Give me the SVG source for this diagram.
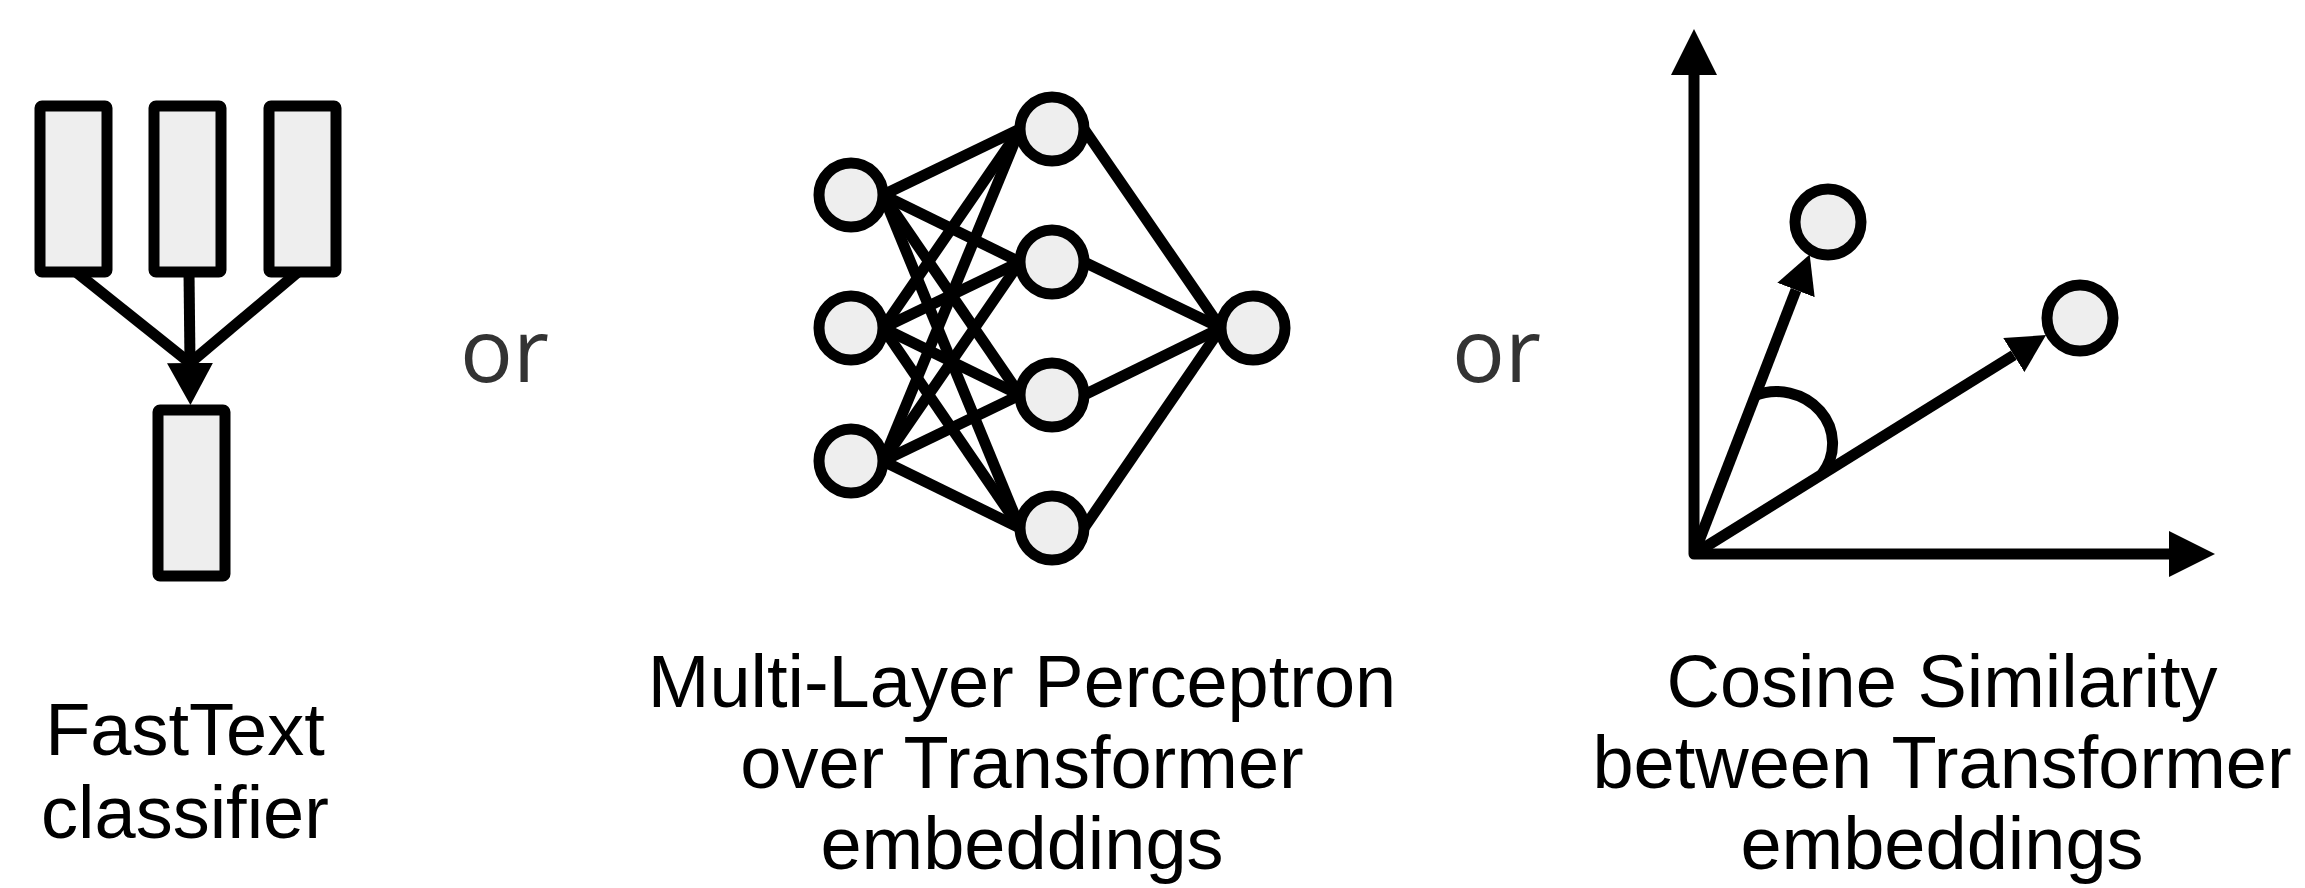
<svg xmlns="http://www.w3.org/2000/svg" width="2305" height="888" viewBox="0 0 2305 888">
<style>
.box{fill:#eeeeee;stroke:#000;stroke-width:11;stroke-linejoin:round}
.node{fill:#eeeeee;stroke:#000;stroke-width:11}
.edge{fill:none;stroke:#000;stroke-width:11}
.lbl{font-family:"Liberation Sans",Arial,sans-serif;font-size:74px;text-anchor:middle;fill:#000}
.or{font-family:"Open Sans","Noto Sans",sans-serif;font-size:88px;fill:#333333}
</style>
<defs>
<marker id="ahL" markerUnits="userSpaceOnUse" markerWidth="46" markerHeight="46" viewBox="0 -23 46 46" refX="0" refY="0" orient="auto-start-reverse"><path d="M0,-23 L46,0 L0,23 z" fill="#000"/></marker>
<marker id="ahF" markerUnits="userSpaceOnUse" markerWidth="42" markerHeight="46" viewBox="0 -23 42 46" refX="0" refY="0" orient="auto"><path d="M0,-23 L42,0 L0,23 z" fill="#000"/></marker>
<marker id="ahS" markerUnits="userSpaceOnUse" markerWidth="38" markerHeight="40" viewBox="0 -20 38 40" refX="0" refY="0" orient="auto"><path d="M0,-20 L38,0 L0,20 z" fill="#000"/></marker>
</defs>

<g id="connectors">
  <!-- FastText -->
  <line class="edge" x1="76" y1="272" x2="190" y2="363"/>
  <line class="edge" x1="298" y1="272" x2="190" y2="363"/>
  <line class="edge" x1="189" y1="272" x2="190" y2="363" marker-end="url(#ahF)"/>
  <!-- MLP input -> hidden -> output -->
  <g class="edge" stroke-width="10.5">
    <line x1="883" y1="195" x2="1020" y2="129"/>
    <line x1="883" y1="195" x2="1020" y2="262"/>
    <line x1="883" y1="195" x2="1020" y2="395"/>
    <line x1="883" y1="195" x2="1020" y2="528"/>
    <line x1="883" y1="328" x2="1020" y2="129"/>
    <line x1="883" y1="328" x2="1020" y2="262"/>
    <line x1="883" y1="328" x2="1020" y2="395"/>
    <line x1="883" y1="328" x2="1020" y2="528"/>
    <line x1="883" y1="461" x2="1020" y2="129"/>
    <line x1="883" y1="461" x2="1020" y2="262"/>
    <line x1="883" y1="461" x2="1020" y2="395"/>
    <line x1="883" y1="461" x2="1020" y2="528"/>
    <line x1="1084" y1="129" x2="1221" y2="328"/>
    <line x1="1084" y1="262" x2="1221" y2="328"/>
    <line x1="1084" y1="395" x2="1221" y2="328"/>
    <line x1="1084" y1="528" x2="1221" y2="328"/>
  </g>
  <!-- Cosine axes and vectors -->
  <path class="edge" d="M1694,75 L1694,554 L2169,554" stroke-linejoin="round" marker-start="url(#ahL)" marker-end="url(#ahL)"/>
  <line class="edge" x1="1694" y1="554" x2="1796" y2="290" marker-end="url(#ahS)"/>
  <line class="edge" x1="1694" y1="554" x2="2013.8" y2="355.1" marker-end="url(#ahS)"/>
  <path class="edge" stroke-width="10.5" d="M1754,396 A56,52 0 0 1 1822,474"/>
</g>

<g id="ft-in-1"><rect class="box" x="40" y="106" width="67" height="166" rx="2"/></g>
<g id="ft-in-2"><rect class="box" x="154" y="106" width="67" height="166" rx="2"/></g>
<g id="ft-in-3"><rect class="box" x="269" y="106" width="67" height="166" rx="2"/></g>
<g id="ft-out"><rect class="box" x="158" y="410" width="67" height="166" rx="2"/></g>

<g id="mlp-in-1"><circle class="node" cx="851" cy="195" r="32"/></g>
<g id="mlp-in-2"><circle class="node" cx="851" cy="328" r="32"/></g>
<g id="mlp-in-3"><circle class="node" cx="851" cy="461" r="32"/></g>
<g id="mlp-h-1"><circle class="node" cx="1052" cy="129" r="32"/></g>
<g id="mlp-h-2"><circle class="node" cx="1052" cy="262" r="32"/></g>
<g id="mlp-h-3"><circle class="node" cx="1052" cy="395" r="32"/></g>
<g id="mlp-h-4"><circle class="node" cx="1052" cy="528" r="32"/></g>
<g id="mlp-out"><circle class="node" cx="1253" cy="328" r="32"/></g>

<g id="cos-pt-1"><circle class="node" cx="1828" cy="222" r="33"/></g>
<g id="cos-pt-2"><circle class="node" cx="2080" cy="318" r="33"/></g>

<g id="or-1"><text class="or" x="460" y="382">or</text></g>
<g id="or-2"><text class="or" x="1452" y="382">or</text></g>

<g id="label-fasttext">
  <text class="lbl" x="185" y="755">FastText</text>
  <text class="lbl" x="185" y="838">classifier</text>
</g>
<g id="label-mlp">
  <text class="lbl" x="1022" y="707">Multi-Layer Perceptron</text>
  <text class="lbl" x="1022" y="788">over Transformer</text>
  <text class="lbl" x="1022" y="869">embeddings</text>
</g>
<g id="label-cos">
  <text class="lbl" x="1942" y="707">Cosine Similarity</text>
  <text class="lbl" x="1942" y="788">between Transformer</text>
  <text class="lbl" x="1942" y="869">embeddings</text>
</g>
</svg>
